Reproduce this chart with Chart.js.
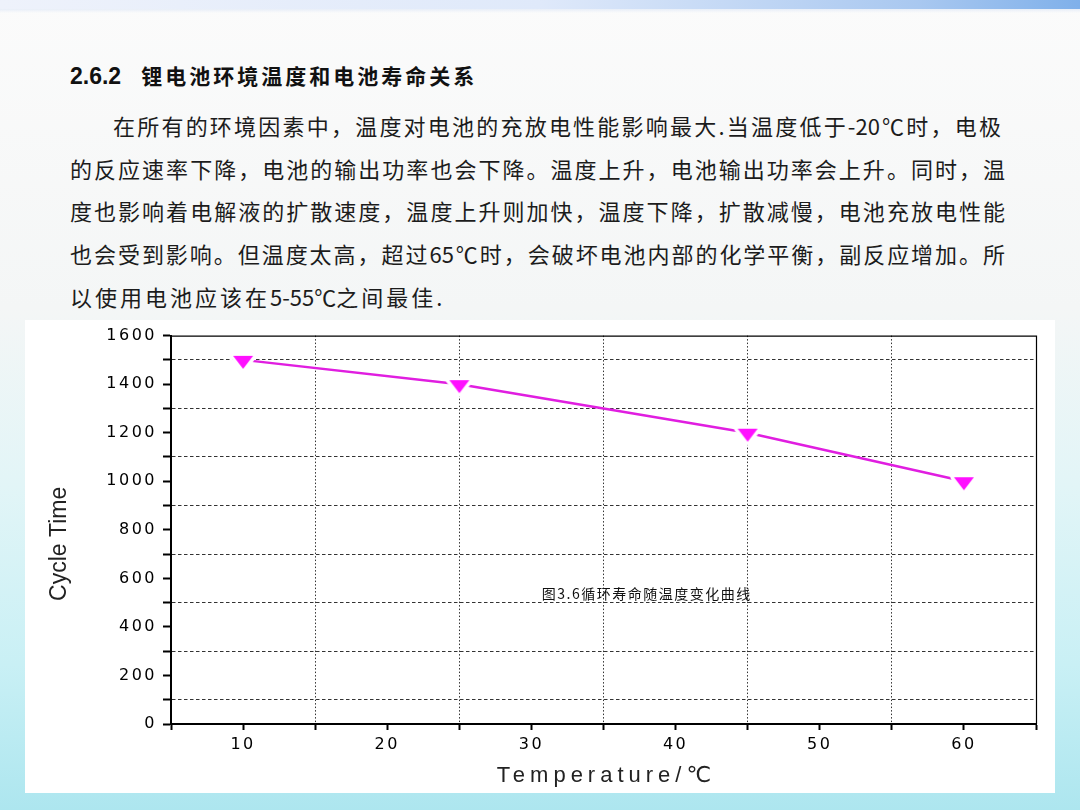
<!DOCTYPE html>
<html>
<head>
<meta charset="utf-8">
<script src="https://cdn.jsdelivr.net/npm/chart.js@4/dist/chart.umd.min.js"></script>
<style>
  html, body { margin: 0; padding: 0; }
  body {
    width: 1080px; height: 810px; position: relative; overflow: hidden;
    background: linear-gradient(to bottom, #fbfbfb 0%, #f4f6f6 38%, #e2f5f7 60%, #c9f0f5 82%, #ade6ef 100%);
    font-family: "Noto Sans CJK SC", sans-serif;
  }
  .topbar {
    position: absolute; left: 0; top: 0; width: 1080px; height: 9px;
    background: linear-gradient(to right, #eef2fb 0%, #dfe9fa 50%, #a9c8f0 85%, #7fb0ea 100%);
  }
  .topbar2 {
    position: absolute; left: 0; top: 9px; width: 1080px; height: 4px;
    background: linear-gradient(to bottom, #e8eef8, rgba(255,255,255,0));
  }
  h2 {
    position: absolute; left: 70px; top: 58px; margin: 0;
    font-size: 21px; font-weight: bold; color: #111; line-height: 34px;
  }
  h2 .num { font-family: "Liberation Sans", Arial, sans-serif; font-size: 23px; margin-right: 20px; }
  h2 .cn { letter-spacing: 3px; }
  .line {
    position: absolute; font-size: 22px; color: #1c1c1c; line-height: 30px;
    text-align: justify; text-align-last: justify; white-space: nowrap;
  }
  .line.last { text-align-last: left; letter-spacing: 3px; }
  .line.last span { letter-spacing: 0; }
  .box {
    position: absolute; left: 25px; top: 320px; width: 1030px; height: 473px;
    background: #ffffff;
  }
  #chart { display: block; }
</style>
</head>
<body>
<div class="topbar"></div>
<div class="topbar2"></div>
<h2><span class="num">2.6.2</span><span class="cn">锂电池环境温度和电池寿命关系</span></h2>
<div class="line" style="left:113px; top:110px; width:888px;">在所有的环境因素中，温度对电池的充放电性能影响最大.当温度低于-20℃时，电极</div>
<div class="line" style="left:70px; top:153px; width:935px;">的反应速率下降，电池的输出功率也会下降。温度上升，电池输出功率会上升。同时，温</div>
<div class="line" style="left:70px; top:195px; width:935px;">度也影响着电解液的扩散速度，温度上升则加快，温度下降，扩散减慢，电池充放电性能</div>
<div class="line" style="left:70px; top:238px; width:935px;">也会受到影响。但温度太高，超过65℃时，会破坏电池内部的化学平衡，副反应增加。所</div>
<div class="line last" style="left:70px; top:281px;">以使用电池应该在<span>5-55℃</span>之间最佳.</div>

<div class="box">
  <canvas id="chart" width="1030" height="473"></canvas>
</div>

<script>
// data
const temps = [10, 25, 45, 60];
const cycles = [1500, 1400, 1200, 1000];
const yLabels = [0, 200, 400, 600, 800, 1000, 1200, 1400, 1600];
const xLabels = [10, 20, 30, 40, 50, 60];
const yTitle = 'Cycle Time';
const xTitle = 'Temperature/℃';
const note = '图3.6循环寿命随温度变化曲线';

// downward triangle marker with a white halo, so the line stops short of it
function makeMarker() {
  const c = document.createElement('canvas');
  c.width = 34; c.height = 26;
  const g = c.getContext('2d');
  const cx = 17, top = 9, h = 13, w = 10;
  g.beginPath();
  g.moveTo(cx - w, top); g.lineTo(cx + w, top); g.lineTo(cx, top + h); g.closePath();
  g.lineJoin = 'round';
  g.lineWidth = 7;
  g.strokeStyle = '#ffffff';
  g.stroke();
  g.fillStyle = '#ff10ff';
  g.fill();
  return c;
}

const frame = {
  id: 'frame',
  beforeDraw(chart) {
    chart.ctx.letterSpacing = '2.5px';
  },
  beforeDatasetsDraw(chart) {
    const {ctx, chartArea: a, scales} = chart;
    ctx.save();
    ctx.strokeStyle = '#000';
    ctx.lineWidth = 1.2;
    ctx.beginPath();
    ctx.moveTo(a.left, a.top + 0.5);
    ctx.lineTo(a.right + 0.5, a.top + 0.5);
    ctx.lineTo(a.right + 0.5, a.bottom);
    ctx.stroke();

    ctx.textAlign = 'center';
    ctx.textBaseline = 'middle';

    // caption inside the plot
    ctx.letterSpacing = '1.5px';
    ctx.fillStyle = '#111';
    ctx.font = '14px "Noto Sans CJK SC", serif';
    ctx.fillText(note, scales.x.getPixelForValue(38), scales.y.getPixelForValue(536));

    // x axis title, wide spacing
    ctx.letterSpacing = '5px';
    ctx.font = '22px "Liberation Sans", "DejaVu Sans", sans-serif';
    ctx.fillStyle = '#222';
    ctx.fillText(xTitle, (a.left + a.right) / 2 + 3, 456);

    // y axis title, narrow face, no extra spacing
    ctx.letterSpacing = '0px';
    ctx.font = '23px "Liberation Sans Narrow", "Liberation Sans", sans-serif';
    ctx.translate(35, (a.top + a.bottom) / 2 + 14);
    ctx.rotate(-Math.PI / 2);
    ctx.fillText(yTitle, 0, 0);
    ctx.restore();
  }
};

const tickFont = {family: '"DejaVu Sans", "Liberation Sans", sans-serif', size: 16};

new Chart(document.getElementById('chart'), {
  type: 'line',
  data: {
    datasets: [{
      data: temps.map((t, i) => ({x: t, y: cycles[i]})),
      borderColor: '#e01ee0',
      borderWidth: 2.5,
      pointStyle: makeMarker(),
      tension: 0
    }]
  },
  options: {
    responsive: false,
    animation: false,
    devicePixelRatio: 1,
    layout: {padding: {top: 13, right: 19, left: 0, bottom: 0}},
    plugins: {legend: {display: false}, tooltip: {enabled: false}},
    scales: {
      x: {
        type: 'linear',
        min: 5, max: 65,
        afterFit: s => { s.height = 69; },
        ticks: {
          stepSize: 5, autoSkip: false, maxRotation: 0, padding: 5,
          color: '#000', font: tickFont,
          callback: v => xLabels.includes(v) ? String(v) : ''
        },
        grid: {
          color: c => c.tick && c.tick.value % 10 !== 0 && c.tick.value !== 5 && c.tick.value !== 65 ? '#333' : 'rgba(0,0,0,0)',
          lineWidth: 1,
          tickColor: '#000', tickLength: 6, tickWidth: 2
        },
        border: {color: '#000', width: 2, dash: [1.5, 2]},
        title: {display: false}
      },
      y: {
        min: 0, max: 1600,
        afterFit: s => { s.width = 146; },
        ticks: {
          stepSize: 100, autoSkip: false, padding: 6,
          color: '#000', font: tickFont,
          callback: v => yLabels.includes(v) ? String(v) : ''
        },
        grid: {
          color: c => c.tick && c.tick.value % 200 !== 0 ? '#333' : 'rgba(0,0,0,0)',
          lineWidth: 1,
          tickColor: '#000', tickLength: 8, tickWidth: 2
        },
        border: {color: '#000', width: 2, dash: [3.5, 2.5]},
        title: {display: false}
      }
    }
  },
  plugins: [frame]
});
</script>
</body>
</html>
